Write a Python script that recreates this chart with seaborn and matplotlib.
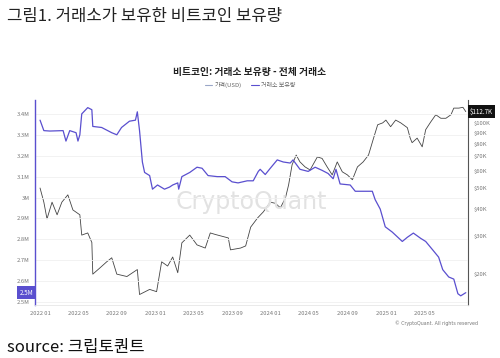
import pandas as pd
import seaborn as sns
import matplotlib.pyplot as plt
import matplotlib.dates as mdates
import matplotlib.ticker as mticker
from matplotlib.lines import Line2D

# exchange reserve (BTC, millions)
reserve_dates = [
    "2022-01-01", "2022-01-13", "2022-02-01", "2022-03-15", "2022-03-24", "2022-04-05",
    "2022-04-25", "2022-05-01", "2022-05-07", "2022-05-13", "2022-06-01", "2022-06-14",
    "2022-06-17", "2022-07-15", "2022-08-16", "2022-09-01", "2022-09-16", "2022-10-11",
    "2022-10-30", "2022-11-05", "2022-11-12", "2022-11-21", "2022-11-28", "2022-12-14",
    "2022-12-23", "2023-01-08", "2023-01-30", "2023-02-15", "2023-02-25", "2023-03-13",
    "2023-03-16", "2023-03-26", "2023-04-20", "2023-05-13", "2023-05-29", "2023-06-17",
    "2023-07-16", "2023-08-10", "2023-09-01", "2023-09-20", "2023-10-19", "2023-11-07",
    "2023-11-23", "2023-11-29", "2023-12-15", "2023-12-31", "2024-01-22", "2024-02-10",
    "2024-03-03", "2024-03-12", "2024-04-03", "2024-04-29", "2024-05-21", "2024-06-12",
    "2024-07-01", "2024-07-17", "2024-07-26", "2024-08-08", "2024-09-09", "2024-09-25",
    "2024-10-20", "2024-11-18", "2024-11-27", "2024-12-13", "2024-12-29", "2025-01-20",
    "2025-02-21", "2025-03-09", "2025-03-28", "2025-04-20", "2025-05-06", "2025-05-28",
    "2025-06-16", "2025-06-29", "2025-07-18", "2025-08-03", "2025-08-16", "2025-08-25",
    "2025-09-10",
]
reserve_m = [
    3.37, 3.32, 3.318, 3.32, 3.27, 3.32,
    3.31, 3.27, 3.30, 3.40, 3.43, 3.42,
    3.34, 3.335, 3.31, 3.30, 3.335, 3.365,
    3.37, 3.41, 3.32, 3.17, 3.12, 3.105,
    3.04, 3.06, 3.04, 3.05, 3.06, 3.07,
    3.04, 3.10, 3.12, 3.145, 3.14, 3.105,
    3.10, 3.10, 3.075, 3.07, 3.08, 3.08,
    3.125, 3.135, 3.11, 3.14, 3.18, 3.17,
    3.165, 3.18, 3.135, 3.125, 3.145, 3.13,
    3.115, 3.09, 3.135, 3.065, 3.06, 3.03,
    3.03, 3.03, 2.99, 2.945, 2.86, 2.835,
    2.79, 2.81, 2.83, 2.805, 2.79, 2.75,
    2.715, 2.655, 2.62, 2.61, 2.54, 2.53,
    2.545,
]

# BTC price (USD, thousands)
price_dates = [
    "2022-01-01", "2022-01-13", "2022-01-23", "2022-02-08", "2022-02-24", "2022-03-11",
    "2022-03-30", "2022-04-15", "2022-05-07", "2022-05-13", "2022-06-01", "2022-06-14",
    "2022-06-17", "2022-07-10", "2022-07-31", "2022-08-16", "2022-09-01", "2022-10-03",
    "2022-11-05", "2022-11-12", "2022-12-14", "2023-01-05", "2023-01-21", "2023-02-09",
    "2023-02-25", "2023-03-13", "2023-03-26", "2023-04-20", "2023-05-13", "2023-06-08",
    "2023-06-24", "2023-07-10", "2023-08-20", "2023-08-27", "2023-09-28", "2023-10-14",
    "2023-10-30", "2023-11-21", "2023-12-09", "2023-12-31", "2024-01-16", "2024-02-01",
    "2024-02-17", "2024-02-27", "2024-03-09", "2024-03-22", "2024-04-03", "2024-04-19",
    "2024-05-05", "2024-05-28", "2024-06-12", "2024-06-28", "2024-07-14", "2024-07-30",
    "2024-08-15", "2024-08-31", "2024-09-16", "2024-10-02", "2024-10-20", "2024-11-06",
    "2024-11-22", "2024-12-05", "2024-12-21", "2024-12-31", "2025-01-15", "2025-01-31",
    "2025-02-16", "2025-03-09", "2025-03-18", "2025-03-24", "2025-04-09", "2025-04-25",
    "2025-05-06", "2025-05-22", "2025-06-07", "2025-06-23", "2025-07-09", "2025-07-25",
    "2025-08-03", "2025-08-19", "2025-09-01", "2025-09-10",
]
price_k = [
    50, 43, 36, 43, 37.6, 43,
    46.5, 39.6, 37.6, 30.3, 31, 28,
    20, 21.4, 22.8, 23.8, 20, 19.5,
    21, 16.1, 17, 16.6, 22.8, 21.8,
    24, 20.3, 27.9, 30.3, 27.3, 26.4,
    31, 30.5, 29.4, 25.9, 26.4, 27,
    33, 36.4, 38.8, 43, 42.5, 40.5,
    45, 51.7, 64, 71, 66, 62.6,
    60.6, 69.6, 68.5, 62.6, 57.5, 66,
    59.4, 57.5, 54.6, 62.6, 66, 71,
    85, 98, 100, 103, 96, 103,
    100, 95, 85, 81, 85, 77.5,
    93, 101, 109, 105, 105, 109,
    117, 117, 118, 112.7,
]

left_ticks = [2.5, 2.6, 2.7, 2.8, 2.9, 3.0, 3.1, 3.2, 3.3, 3.4]
right_ticks = [20, 30, 40, 50, 60, 70, 80, 90, 100]
x_ticks = ["2022-01", "2022-05", "2022-09", "2023-01", "2023-05", "2023-09",
           "2024-01", "2024-05", "2024-09", "2025-01", "2025-05"]

reserve = pd.DataFrame({"date": pd.to_datetime(reserve_dates), "val": reserve_m})
price = pd.DataFrame({"date": pd.to_datetime(price_dates), "val": price_k})

sns.set_theme(style="white")
plt.rcParams["font.family"] = ["Noto Sans CJK KR", "DejaVu Sans"]

BLUE = "#5a4fcf"
GREY = "#8a8a8a"

fig = plt.figure(figsize=(5.0, 3.58), dpi=100)
ax = fig.add_axes([0.07, 0.148, 0.866, 0.573])
ax2 = ax.twinx()

sns.lineplot(data=price, x="date", y="val", ax=ax2, color="#444444", linewidth=0.6)
sns.lineplot(data=reserve, x="date", y="val", ax=ax, color=BLUE, linewidth=0.9)
ax.set_zorder(ax2.get_zorder() + 1)
ax.patch.set_visible(False)

ax.set_ylim(2.486, 3.467)
ax.set_yticks(left_ticks)
ax.set_yticklabels([f"{t:g}M" for t in left_ticks])
ax.grid(axis="y", color="#f0f0f0", linewidth=0.6)

ax2.set_yscale("log")
ax2.set_ylim(14.4, 127.7)
ax2.yaxis.set_major_locator(mticker.FixedLocator(right_ticks))
ax2.yaxis.set_minor_locator(mticker.NullLocator())
ax2.yaxis.set_major_formatter(mticker.FixedFormatter([f"${t}K" for t in right_ticks]))

ax.set_xlim(pd.Timestamp("2021-12-16"), pd.Timestamp("2025-09-17"))
ax.set_xticks(pd.to_datetime(x_ticks))
ax.xaxis.set_major_formatter(mdates.DateFormatter("%Y %m"))

for a in (ax, ax2):
    a.set_xlabel("")
    a.set_ylabel("")
    a.tick_params(labelsize=4.2, colors="#777777", length=2, width=0.4, pad=2)
    for s in a.spines.values():
        s.set_visible(False)
ax.tick_params(axis="y", length=0, pad=4)
ax2.tick_params(axis="y", length=0, pad=4)
ax.spines["left"].set_visible(True)
ax.spines["left"].set_color(BLUE)
ax.spines["left"].set_linewidth(1.0)
ax2.spines["right"].set_visible(True)
ax2.spines["right"].set_color("#555555")
ax2.spines["right"].set_linewidth(0.8)
ax.spines["bottom"].set_visible(True)
ax.spines["bottom"].set_color("#e6e6e6")
ax.spines["bottom"].set_linewidth(0.6)

# last-value tags
ax.text(-0.004, reserve["val"].iloc[-1], f"{reserve['val'].iloc[-1]:.1f}M",
        transform=ax.get_yaxis_transform(), ha="right", va="center", fontsize=4.5,
        color="white", bbox=dict(boxstyle="square,pad=0.35", fc=BLUE, ec="none"))
ax2.text(1.004, price["val"].iloc[-1], f"${price['val'].iloc[-1]:.1f}K",
         transform=ax2.get_yaxis_transform(), ha="left", va="center", fontsize=4.5,
         color="white", bbox=dict(boxstyle="square,pad=0.35", fc="#111111", ec="none"))

# watermark
ax.text(0.5, 0.5, "CryptoQuant", transform=ax.transAxes, ha="center", va="center",
        fontsize=17, color="#e2e2e2", family="DejaVu Sans", zorder=0)

fig.text(0.014, 0.955, "그림1. 거래소가 보유한 비트코인 보유량", fontsize=12,
         color="#222222", va="center")
fig.text(0.5, 0.80, "비트코인: 거래소 보유량 - 전체 거래소", fontsize=7,
         fontweight="bold", ha="center", va="center", color="#222222")

handles = [Line2D([], [], color="#9aa6c8", lw=0.8), Line2D([], [], color=BLUE, lw=0.8)]
fig.legend(handles, ["가격(USD)", "거래소 보유량"], loc="center", bbox_to_anchor=(0.5, 0.763),
           ncol=2, frameon=False, fontsize=4.3, handlelength=1.3, handletextpad=0.4,
           columnspacing=1.5, labelcolor="#666666")

fig.text(0.956, 0.098, "© CryptoQuant. All rights reserved", fontsize=3.4,
         ha="right", va="center", color="#777777", family="DejaVu Sans")
fig.text(0.014, 0.03, "source: 크립토퀀트", fontsize=12, color="#111111", va="center")

fig.savefig("out.png", dpi=100)
